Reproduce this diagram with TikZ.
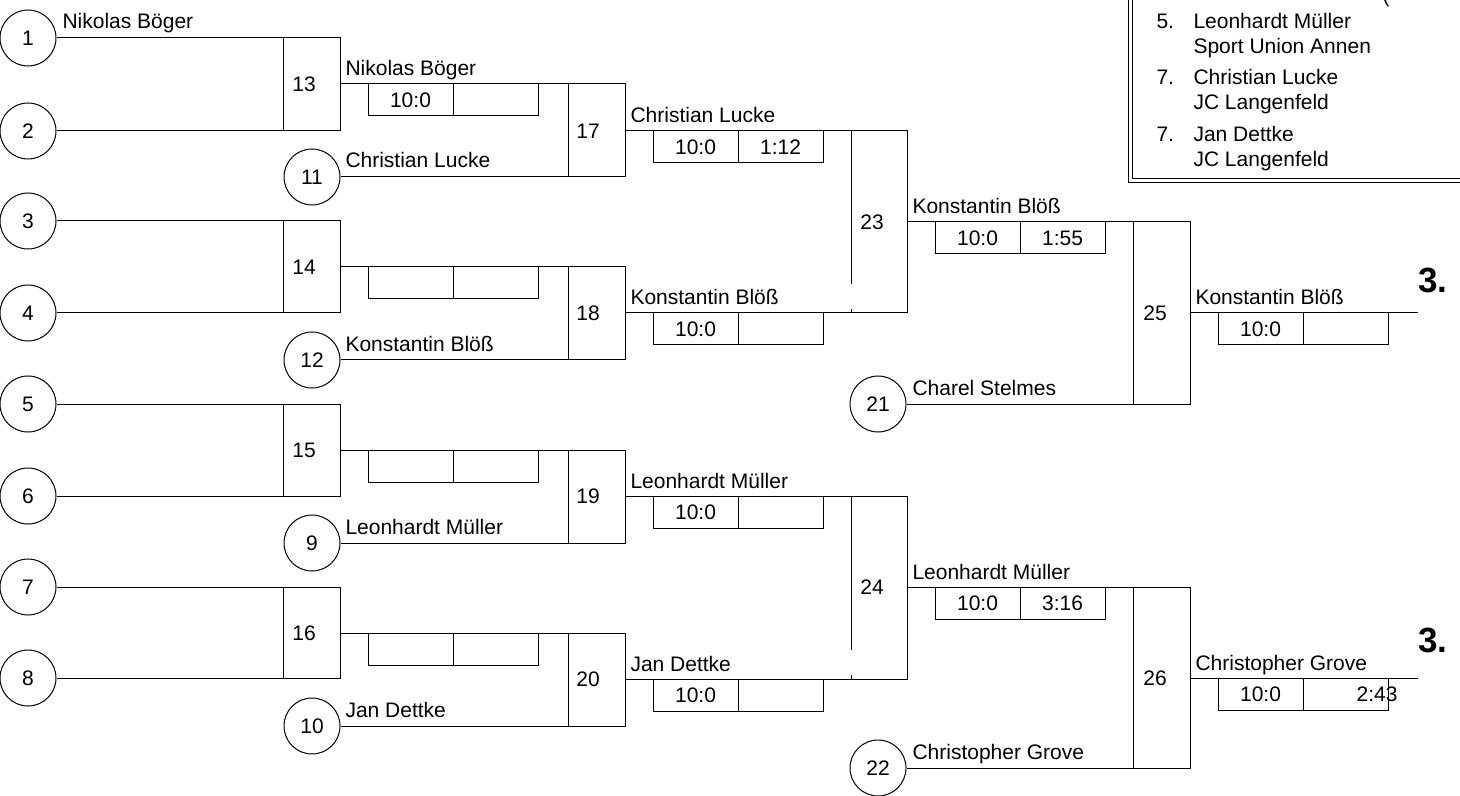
\documentclass[tikz,border=0pt]{standalone}
\usepackage{fontspec}
\setmainfont{Liberation Sans}
\usepackage{tikz}

\tikzset{
  seed/.style={circle,draw,minimum size=28pt,inner sep=0pt},
  player/.style={anchor=base west,inner sep=0pt},
  res/.style={inner sep=0pt},
  boutno/.style={inner sep=0pt},
  place/.style={anchor=base west,inner sep=0pt,font=\bfseries\fontsize{17.5}{20}\selectfont}
}

% score strip under a winner line: id, x of box edge, y of line, name, result, time
\newcommand{\bout}[6]{%
  \draw (#2+28,#3) -- (#2+28,#3+32) -- (#2+198,#3+32) -- (#2+198,#3);
  \draw (#2+113,#3) -- (#2+113,#3+32);
  \node[player] (w#1) at (#2+5,#3-8) {#4};
  \node[res] (r#1) at (#2+70.5,#3+16) {#5};
  \node[res] (t#1) at (#2+155.5,#3+16) {#6};
}

\begin{document}
\begin{tikzpicture}[x=0.5pt,y=-0.5pt,line width=0.5pt,font=\fontsize{10.5}{12.6}\selectfont]
  \useasboundingbox (0,0) rectangle (1460,796);
  \fill[white] (0,0) rectangle (1460,796);

  % first round
  \foreach \sa/\sb/\t/\b/\m/\n in {1/2/38/131/84/13, 3/4/221/313/267/14, 5/6/404/496/450/15, 7/8/587/678/633/16} {
    \node[seed] (s\sa) at (28,\t) {\sa};
    \node[seed] (s\sb) at (28,\b) {\sb};
    \draw (s\sa.east) -- (340,\t) -- (340,\b) -- (s\sb.east);
    \draw (283,\t) -- (283,\b);
    \node[boutno] (b\n) at (304,\m) {\n};
  }
  \node[player] (p1) at (62,29) {Nikolas Böger};

  % second round
  \foreach \t/\b/\o/\c/\n in {84/177/131/11/17, 267/360/313/12/18, 450/543/496/9/19, 633/726/679/10/20} {
    \node[seed] (s\c) at (312,\b) {\c};
    \draw (340,\t) -- (625,\t) -- (625,\b) -- (s\c.east);
    \draw (568,\t) -- (568,\b);
    \node[boutno] (b\n) at (588,\o) {\n};
  }
  \node[player] (p11) at (345,168) {Christian Lucke};
  \node[player] (p12) at (345,351) {Konstantin Blöß};
  \node[player] (p9) at (345,534) {Leonhardt Müller};
  \node[player] (p10) at (345,717) {Jan Dettke};

  \bout{13}{340}{84}{Nikolas Böger}{10:0}{}
  \bout{14}{340}{267}{}{}{}
  \bout{15}{340}{450}{}{}{}
  \bout{16}{340}{633}{}{}{}

  % third round
  \foreach \t/\b/\o/\n in {131/313/222/23, 496/679/587/24} {
    \draw (625,\t) -- (907,\t) -- (907,\b) -- (625,\b);
    \draw (851,\t) -- (851,\b-29) (851,\b-4) -- (851,\b);
    \node[boutno] (b\n) at (872,\o) {\n};
  }
  \bout{17}{625}{131}{Christian Lucke}{10:0}{1:12}
  \bout{18}{625}{313}{Konstantin Blöß}{10:0}{}
  \bout{19}{625}{496}{Leonhardt Müller}{10:0}{}
  \bout{20}{625}{679}{Jan Dettke}{10:0}{}

  % final rounds
  \foreach \t/\b/\o/\c/\n in {222/404/313/21/25, 587/768/678/22/26} {
    \node[seed] (s\c) at (878,\b) {\c};
    \draw (907,\t) -- (1190,\t) -- (1190,\b) -- (s\c.east);
    \draw (1133,\t) -- (1133,\b);
    \node[boutno] (b\n) at (1155,\o) {\n};
    \draw (1190,\o) -- (1418,\o);
  }
  \node[player] (p21) at (912,395) {Charel Stelmes};
  \node[player] (p22) at (912,759) {Christopher Grove};

  \bout{23}{907}{222}{Konstantin Blöß}{10:0}{1:55}
  \bout{24}{907}{587}{Leonhardt Müller}{10:0}{3:16}
  \bout{25}{1190}{313}{Konstantin Blöß}{10:0}{}
  \bout{26}{1190}{678}{Christopher Grove}{10:0}{}
  \node[anchor=east,inner sep=0pt] (x26) at (1398,694) {2:43};

  \node[place] (q25) at (1418,293) {3.};
  \node[place] (q26) at (1418,652) {3.};

  % ranking box
  \draw (1128,-5) -- (1128,183) -- (1465,183);
  \draw (1132,-5) -- (1132,179) -- (1465,179);
  \node[player] (cut) at (1382,3) {(};
  \foreach \y/\r/\a/\c [count=\i] in {29/5./Leonhardt Müller/Sport Union Annen, 85/7./Christian Lucke/JC Langenfeld, 142/7./Jan Dettke/JC Langenfeld} {
    \node[player] (rk\i) at (1156,\y) {\r};
    \node[player] (nm\i) at (1193,\y) {\a};
    \node[player] (cl\i) at (1193,\y+25) {\c};
  }
\end{tikzpicture}
\end{document}
